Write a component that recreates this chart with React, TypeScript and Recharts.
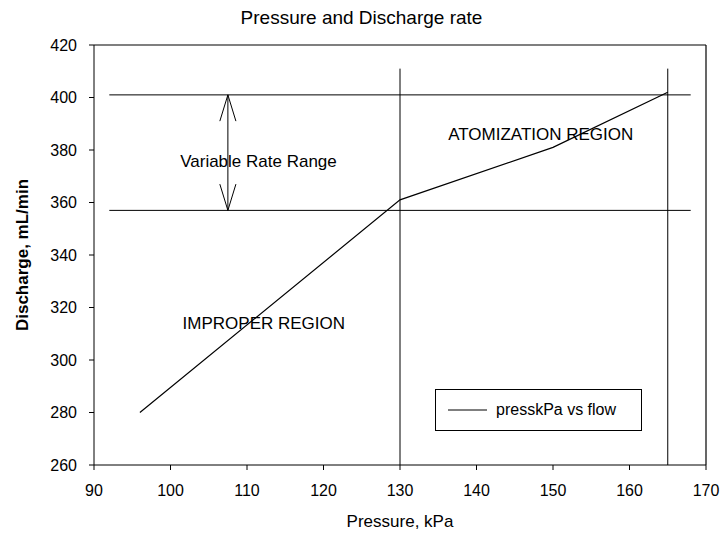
import React from 'react';
import {
  LineChart,
  Line,
  XAxis,
  YAxis,
  ReferenceLine,
  ReferenceDot,
  Legend,
} from 'recharts';

// measured operating curve
const pressureKpa = [96, 130, 150, 165];
const dischargeMlMin = [280, 361, 381, 402];

const xTicks = [90, 100, 110, 120, 130, 140, 150, 160, 170];
const yTicks = [260, 280, 300, 320, 340, 360, 380, 400, 420];

// limits of the variable rate range
const rangeLimits = [401, 357];
const rangeLineFrom = 92;
const rangeLineTo = 168;

// region boundaries on the pressure axis
const regionBounds = [130, 165];
const boundTop = 411;

// double-headed arrow across the rate range
const arrowX = 107.5;
const arrowHeadDx = 1.05;
const arrowHeadDy = 10;

const annotations = [
  { text: 'Variable Rate Range', x: 111.5, y: 376 },
  { text: 'ATOMIZATION REGION', x: 148.4, y: 386 },
  { text: 'IMPROPER  REGION', x: 112.2, y: 314 },
];

const data = pressureKpa.map((p, i) => ({ press: p, flow: dischargeMlMin[i] }));

const FONT = '"Liberation Sans", Arial, sans-serif';

const renderLegend = () => (
  <div
    style={{
      boxSizing: 'border-box',
      width: 207,
      height: 42,
      border: '1px solid #000',
      background: '#fff',
      display: 'flex',
      alignItems: 'center',
      fontFamily: FONT,
      fontSize: 16,
      color: '#000',
    }}
  >
    <svg width={60} height={10}>
      <line x1={12} y1={5} x2={51} y2={5} stroke="#000" strokeWidth={1} />
    </svg>
    <span>presskPa vs flow</span>
  </div>
);

export default function App() {
  const arrowSegs = [
    [{ x: arrowX, y: rangeLimits[1] }, { x: arrowX, y: rangeLimits[0] }],
    [{ x: arrowX, y: rangeLimits[0] }, { x: arrowX - arrowHeadDx, y: rangeLimits[0] - arrowHeadDy }],
    [{ x: arrowX, y: rangeLimits[0] }, { x: arrowX + arrowHeadDx, y: rangeLimits[0] - arrowHeadDy }],
    [{ x: arrowX, y: rangeLimits[1] }, { x: arrowX - arrowHeadDx, y: rangeLimits[1] + arrowHeadDy }],
    [{ x: arrowX, y: rangeLimits[1] }, { x: arrowX + arrowHeadDx, y: rangeLimits[1] + arrowHeadDy }],
  ];

  return (
    <div style={{ position: 'absolute', left: 0, top: 0, width: 721, height: 536, background: '#fff' }}>
      <div
        style={{
          position: 'absolute',
          top: 7,
          left: 0,
          width: 721,
          textAlign: 'center',
          fontFamily: FONT,
          fontSize: 19,
          paddingLeft: 1,
          lineHeight: '22px',
        }}
      >
        Pressure and Discharge rate
      </div>
      <LineChart
        width={721}
        height={536}
        data={data}
        margin={{ top: 45, right: 15, left: 34, bottom: 41 }}
        style={{ fontFamily: FONT }}
      >
        <XAxis
          type="number"
          dataKey="press"
          domain={[90, 170]}
          ticks={xTicks}
          interval={0}
          height={30}
          stroke="#000"
          tickSize={5}
          tickMargin={15}
          tick={{ fill: '#000', fontSize: 16 }}
          label={{ value: 'Pressure, kPa', position: 'bottom', offset: 20, fill: '#000', fontSize: 17 }}
        />
        <YAxis
          type="number"
          domain={[260, 420]}
          ticks={yTicks}
          interval={0}
          width={60}
          stroke="#000"
          tickSize={5}
          tickMargin={12}
          tick={{ fill: '#000', fontSize: 16 }}
          label={{
            value: 'Discharge, mL/min',
            angle: -90,
            position: 'insideLeft',
            offset: -12,
            fill: '#000',
            fontSize: 17,
            fontWeight: 'bold',
            style: { textAnchor: 'middle' },
          }}
        />
        {/* top and right frame */}
        <ReferenceLine y={420} stroke="#000" strokeWidth={1.2} ifOverflow="visible" />
        <ReferenceLine x={170} stroke="#000" strokeWidth={1.2} ifOverflow="visible" />

        {rangeLimits.map((v) => (
          <ReferenceLine
            key={`h${v}`}
            segment={[{ x: rangeLineFrom, y: v }, { x: rangeLineTo, y: v }]}
            stroke="#000"
            strokeWidth={1}
          />
        ))}
        {regionBounds.map((v) => (
          <ReferenceLine
            key={`v${v}`}
            segment={[{ x: v, y: 260 }, { x: v, y: boundTop }]}
            stroke="#000"
            strokeWidth={1}
          />
        ))}
        {arrowSegs.map((seg, i) => (
          <ReferenceLine key={`a${i}`} segment={seg} stroke="#000" strokeWidth={1} />
        ))}
        {annotations.map((a) => (
          <ReferenceDot
            key={a.text}
            x={a.x}
            y={a.y}
            r={0}
            fill="none"
            stroke="none"
            label={{ value: a.text, position: 'center', fill: '#000', fontSize: 17 }}
          />
        ))}

        <Line
          type="linear"
          dataKey="flow"
          name="presskPa vs flow"
          stroke="#000"
          strokeWidth={1.2}
          dot={false}
          isAnimationActive={false}
        />
        <Legend
          verticalAlign="middle"
          content={renderLegend}
          wrapperStyle={{ position: 'absolute', left: 435, top: 389, width: 207, height: 42 }}
        />
      </LineChart>
    </div>
  );
}
